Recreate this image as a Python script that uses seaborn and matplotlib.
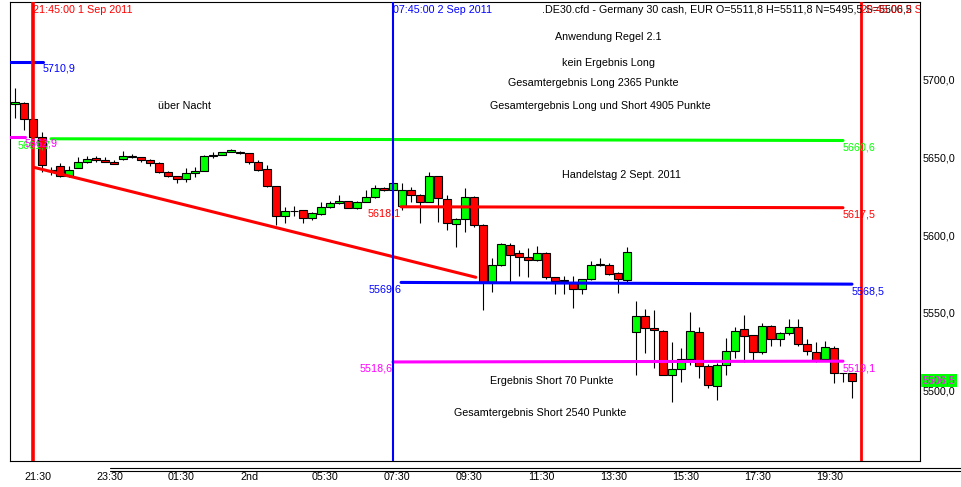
import numpy as np
import pandas as pd
import matplotlib
matplotlib.use('Agg')
import matplotlib.pyplot as plt
import matplotlib.transforms as mtrans
from matplotlib.lines import Line2D
import seaborn as sns

# 15-min candles, index 0 = 21:45 1 Sep 2011
idx = list(range(-2, 92))
opens = [5684.0, 5684.4, 5674.2, 5662.6, 5641.5, 5644.4, 5637.8, 5643.2, 5646.6, 5649.2,
         5647.9, 5646.8, 5648.5, 5650.6, 5649.8, 5648.1, 5646.0, 5640.6, 5637.8, 5635.7,
         5640.0, 5641.3, 5650.6, 5651.3, 5653.2, 5653.5, 5652.4, 5647.0, 5642.1, 5631.4,
         5612.4, 5615.4, 5615.8, 5610.7, 5613.5, 5617.8, 5620.4, 5621.8, 5617.2, 5621.2,
         5624.2, 5630.4, 5628.8, 5618.6, 5628.8, 5625.6, 5621.2, 5637.8, 5622.9, 5606.9,
         5610.1, 5624.2, 5606.4, 5570.1, 5580.6, 5593.4, 5588.3, 5585.9, 5583.9, 5588.3,
         5572.9, 5570.9, 5569.4, 5565.2, 5571.6, 5580.6, 5581.0, 5575.5, 5571.2, 5537.6,
         5548.1, 5540.2, 5538.5, 5510.3, 5514.1, 5520.3, 5537.6, 5516.3, 5503.2, 5516.7,
         5525.6, 5539.6, 5535.9, 5524.8, 5541.9, 5533.3, 5537.0, 5541.3, 5530.0, 5524.8,
         5520.3, 5527.4, 5511.4, 5511.8]
highs = [5694.2, 5685.5, 5675.0, 5666.2, 5643.6, 5646.2, 5644.2, 5649.8, 5650.6, 5650.5,
         5650.2, 5648.3, 5654.1, 5651.9, 5650.3, 5648.5, 5646.5, 5641.0, 5638.0, 5642.8,
         5643.4, 5651.0, 5653.5, 5653.5, 5655.0, 5654.0, 5652.8, 5648.1, 5644.9, 5631.5,
         5618.2, 5618.6, 5616.0, 5614.5, 5621.4, 5621.5, 5625.6, 5622.0, 5621.6, 5628.8,
         5632.1, 5631.0, 5634.2, 5633.5, 5631.0, 5626.0, 5640.2, 5638.0, 5625.6, 5611.0,
         5629.9, 5625.0, 5607.0, 5585.1, 5595.1, 5595.1, 5590.4, 5591.5, 5593.0, 5589.0,
         5573.0, 5573.7, 5573.7, 5572.0, 5583.1, 5585.1, 5582.0, 5576.0, 5592.6, 5557.7,
         5552.6, 5552.0, 5539.0, 5531.6, 5527.8, 5550.4, 5540.9, 5517.0, 5518.0, 5534.1,
         5541.3, 5548.7, 5536.0, 5543.4, 5542.5, 5538.0, 5546.2, 5546.2, 5533.3, 5531.6,
         5532.1, 5529.0, 5511.8, 5511.8]
lows = [5675.0, 5667.3, 5660.0, 5640.4, 5638.5, 5637.5, 5637.5, 5642.8, 5646.0, 5647.0,
        5646.5, 5645.5, 5648.0, 5649.5, 5647.0, 5644.2, 5640.0, 5637.5, 5633.5, 5634.3,
        5637.0, 5641.0, 5649.2, 5651.0, 5653.0, 5652.0, 5645.5, 5641.0, 5631.0, 5606.4,
        5607.9, 5612.0, 5607.5, 5609.8, 5613.0, 5617.0, 5620.0, 5617.0, 5616.8, 5621.0,
        5624.0, 5628.5, 5628.5, 5616.0, 5621.4, 5607.5, 5621.0, 5608.5, 5603.2, 5592.1,
        5602.1, 5605.0, 5551.9, 5563.7, 5580.0, 5570.1, 5573.7, 5573.3, 5583.5, 5572.0,
        5562.2, 5562.2, 5553.4, 5562.2, 5571.0, 5580.0, 5574.5, 5563.1, 5569.0, 5510.3,
        5524.2, 5514.6, 5510.0, 5493.2, 5506.0, 5516.7, 5508.1, 5501.7, 5494.2, 5510.3,
        5521.0, 5518.8, 5519.9, 5524.0, 5529.1, 5529.0, 5536.0, 5529.0, 5523.1, 5518.8,
        5519.0, 5505.0, 5505.6, 5495.5]
closes = [5685.3, 5674.2, 5662.6, 5644.9, 5641.0, 5637.8, 5641.7, 5646.6, 5648.5, 5647.9,
          5646.8, 5645.8, 5650.6, 5649.8, 5648.1, 5646.0, 5640.6, 5637.8, 5635.7, 5640.0,
          5641.3, 5650.6, 5651.3, 5653.2, 5654.3, 5652.4, 5647.0, 5641.7, 5631.4, 5612.4,
          5615.4, 5615.2, 5610.7, 5613.9, 5617.8, 5620.4, 5621.8, 5617.2, 5621.2, 5624.2,
          5630.4, 5628.8, 5633.1, 5628.8, 5625.6, 5621.2, 5637.8, 5623.6, 5608.0, 5610.1,
          5624.6, 5606.4, 5570.1, 5580.6, 5594.0, 5587.0, 5585.7, 5583.9, 5588.3, 5572.9,
          5570.7, 5570.5, 5565.2, 5571.6, 5580.6, 5581.4, 5574.9, 5571.6, 5588.9, 5548.1,
          5540.2, 5539.0, 5510.3, 5514.1, 5520.3, 5538.5, 5516.3, 5503.8, 5516.7, 5525.6,
          5538.5, 5535.4, 5524.8, 5541.9, 5533.3, 5537.0, 5541.3, 5530.0, 5525.6, 5519.9,
          5528.4, 5511.4, 5511.8, 5506.5]

tick_pos = [-1, 7, 15, 23, 31, 39, 47, 55, 63, 71, 79, 87]
tick_labels = ['21:30', '23:30', '01:30', '2nd', '05:30', '07:30', '09:30',
               '11:30', '13:30', '15:30', '17:30', '19:30']
price_ticks = [5500, 5550, 5600, 5650, 5700]

# level lines: start index, end index, start price, end price
level_start = [2.0, 40.9, 40.9, 40.0, -2.6, -2.6]
level_end = [90.0, 90.0, 91.0, 90.0, 1.1, -0.9]
level_p0 = [5661.7, 5618.1, 5569.6, 5518.6, 5710.9, 5662.9]
level_p1 = [5660.6, 5617.5, 5568.5, 5519.1, 5710.9, 5662.9]
level_colors = ['#00ff00', '#ff0000', '#0000ff', '#ff00ff', '#0000ff', '#ff00ff']
label_start = ['5661,7', '5618,1', '5569,6', '5518,6', '', '']
label_end = ['5660,6', '5617,5', '5568,5', '5519,1', '5710,9', '5662,9']

trend_x = [0.1, 49.2]
trend_y = [5643.4, 5572.9]

vline_pos = [0, 40, 92]
vline_text = ['21:45:00 1 Sep 2011', '07:45:00 2 Sep 2011', '20:45:00 2 Sep 2011']
vline_colors = ['#ff0000', '#0000ff', '#ff0000']
vline_widths = [2.6, 1.5, 2.0]

last_price = 5506.5

sns.set_theme(style="white", rc={'axes.edgecolor': 'black', 'text.color': 'black',
                                 'xtick.color': 'black', 'ytick.color': 'black'})
plt.rcParams['font.family'] = ['Liberation Sans', 'DejaVu Sans']
fs = 7.75

df = pd.DataFrame({'i': idx, 'o': opens, 'h': highs, 'l': lows, 'c': closes})
up = df['c'] >= df['o']

fig = plt.figure(figsize=(9.61, 4.87), dpi=100)
ax = fig.add_axes([10/961, 26/487, 910/961, 459/487])

ax.vlines(df['i'], df['l'], df['h'], color='black', lw=0.8, zorder=2)
ax.bar(df['i'], df['c'] - df['o'], bottom=df['o'], width=0.95,
       color=np.where(up, '#00ff00', '#ff0000'), edgecolor='black', linewidth=0.8, zorder=3)

for k in range(len(level_start)):
    sns.lineplot(x=[level_start[k], level_end[k]], y=[level_p0[k], level_p1[k]],
                 color=level_colors[k], lw=2.2, ax=ax, zorder=4)
    if label_start[k]:
        ax.annotate(label_start[k], (level_start[k], level_p0[k]), xytext=(0, -5),
                    textcoords='offset points', ha='right', va='center',
                    color=level_colors[k], fontsize=fs, zorder=6)
    ax.annotate(label_end[k], (level_end[k], level_p1[k]), xytext=(0, -5),
                textcoords='offset points', ha='left', va='center',
                color=level_colors[k], fontsize=fs, zorder=6)

sns.lineplot(x=trend_x, y=trend_y, color='#ff0000', lw=2.2, ax=ax, zorder=4)

top = mtrans.blended_transform_factory(ax.transData, ax.transAxes)
for p, t, c, w in zip(vline_pos, vline_text, vline_colors, vline_widths):
    ax.axvline(p, color=c, lw=w, zorder=5)
    ax.text(p, 1 - 8/459, t, transform=top, color=c, fontsize=fs,
            ha='left', va='center', clip_on=True, zorder=6)

ax.text((542 - 10)/910, 1 - 8/459,
        '.DE30.cfd - Germany 30 cash, EUR O=5511,8 H=5511,8 N=5495,5 S=5506,5',
        transform=ax.transAxes, fontsize=fs, ha='left', va='center', zorder=5)

notes = [('über Nacht', 185, 106),
         ('Anwendung Regel 2.1', 608, 37),
         ('kein Ergebnis Long', 609, 63),
         ('Gesamtergebnis Long 2365 Punkte', 593, 83),
         ('Gesamtergebnis Long und Short 4905 Punkte', 600, 106),
         ('Handelstag 2 Sept. 2011', 621, 175),
         ('Ergebnis Short 70 Punkte', 552, 381),
         ('Gesamtergebnis Short 2540 Punkte', 540, 413)]
for t, px, py in notes:
    ax.text((px - 10)/910, (461 - py)/459, t, transform=ax.transAxes,
            fontsize=fs, ha='center', va='center')

right = mtrans.blended_transform_factory(ax.transAxes, ax.transData)
ax.text(1.0025, last_price, '5506,5', transform=right, color='#ff00ff', fontsize=fs,
        ha='left', va='center', clip_on=False, zorder=7,
        bbox=dict(facecolor='#00ff00', edgecolor='none', pad=1.2))

ax.set_xlim(-2.556, 98.56)
ax.set_ylim(5455.1, 5749.4)
ax.set_xticks(tick_pos)
ax.set_xticklabels(tick_labels, ha='left', fontsize=fs)
ax.set_yticks(price_ticks)
ax.set_yticklabels([f'{p:.1f}'.replace('.', ',') for p in price_ticks], fontsize=fs)
ax.yaxis.tick_right()
ax.tick_params(axis='y', length=0, pad=1.5)
ax.tick_params(axis='x', length=0, pad=8)
ax.set_xlabel('')
ax.set_ylabel('')
for s in ax.spines.values():
    s.set_color('black')
    s.set_linewidth(0.8)

for yy in [467.5, 470.5]:
    fig.add_artist(Line2D([110/961, 1], [1 - yy/487, 1 - yy/487], color='black', lw=0.8))

fig.savefig('out.png', dpi=100)
